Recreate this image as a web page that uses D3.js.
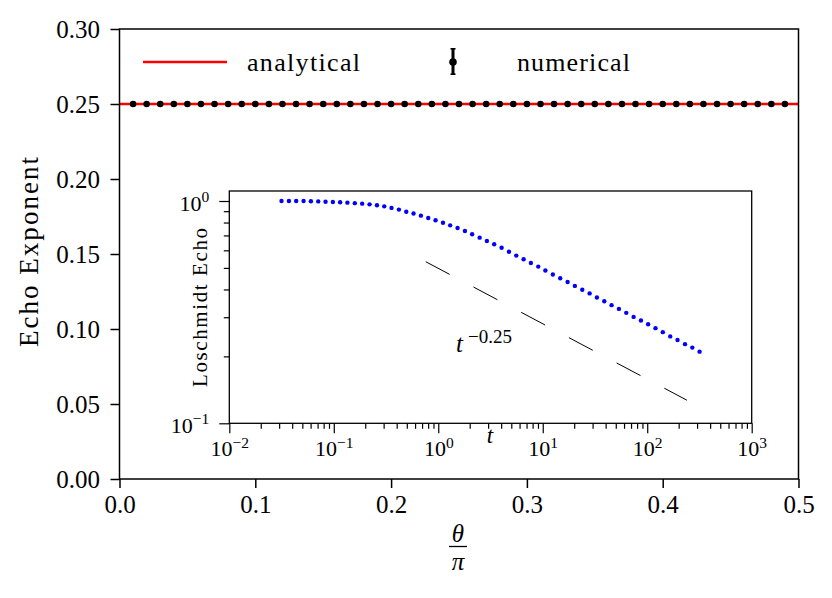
<!DOCTYPE html>
<html><head><meta charset="utf-8">
<script src="https://cdn.jsdelivr.net/npm/d3@7"></script>
<style>
body{margin:0;background:#fff}
svg{display:block}
svg text{font-family:"Liberation Serif","DejaVu Serif","Times New Roman",serif !important;fill:#000}
</style>
</head><body>
<svg id="c" width="832" height="598" font-family="Liberation Serif, DejaVu Serif, serif"></svg>
<script>
// ---------- data ----------
const thetaOverPi = [0.01,0.02,0.03,0.04,0.05,0.06,0.07,0.08,0.09,0.10,
  0.11,0.12,0.13,0.14,0.15,0.16,0.17,0.18,0.19,0.20,
  0.21,0.22,0.23,0.24,0.25,0.26,0.27,0.28,0.29,0.30,
  0.31,0.32,0.33,0.34,0.35,0.36,0.37,0.38,0.39,0.40,
  0.41,0.42,0.43,0.44,0.45,0.46,0.47,0.48,0.49];
const echoExponent = [0.25,0.25,0.25,0.25,0.25,0.25,0.25,0.25,0.25,0.25,
  0.25,0.25,0.25,0.25,0.25,0.25,0.25,0.25,0.25,0.25,
  0.25,0.25,0.25,0.25,0.25,0.25,0.25,0.25,0.25,0.25,
  0.25,0.25,0.25,0.25,0.25,0.25,0.25,0.25,0.25,0.25,
  0.25,0.25,0.25,0.25,0.25,0.25,0.25,0.25,0.25];
const analyticalTheta = [0, 0.5];
const analyticalExponent = [0.25, 0.25];
const mainXTicks = [0, 0.1, 0.2, 0.3, 0.4, 0.5];
const mainXTickLabels = ["0.0","0.1","0.2","0.3","0.4","0.5"];
const mainYTicks = [0, 0.05, 0.10, 0.15, 0.20, 0.25, 0.30];
const mainYTickLabels = ["0.00","0.05","0.10","0.15","0.20","0.25","0.30"];

const insetT = [0.0316,0.0372,0.0437,0.0514,0.0604,0.0710,0.0834,0.0980,0.115,0.135,
  0.159,0.187,0.220,0.259,0.304,0.357,0.420,0.494,0.580,0.682,
  0.802,0.942,1.11,1.30,1.53,1.80,2.11,2.49,2.92,3.43,
  4.04,4.75,5.58,6.56,7.70,9.06,10.6,12.5,14.7,17.3,
  20.3,23.9,28.1,33.0,38.8,45.6,53.6,63.0,74.1,87.1,
  102,120,141,166,195,230,270,317];
const insetEcho = [1.000,1.000,1.000,1.000,0.998,0.996,0.993,0.990,0.987,0.983,
  0.978,0.973,0.966,0.957,0.946,0.931,0.915,0.894,0.878,0.859,
  0.838,0.819,0.798,0.777,0.756,0.733,0.709,0.684,0.661,0.639,
  0.616,0.591,0.568,0.547,0.526,0.507,0.487,0.467,0.449,0.432,
  0.415,0.399,0.384,0.368,0.354,0.340,0.327,0.314,0.301,0.290,
  0.279,0.268,0.257,0.246,0.237,0.227,0.219,0.210];
const guideT = [0.76, 240];
const guideEcho = [0.533, 0.127];
const insetXTicks = [1e-2, 1e-1, 1e0, 1e1, 1e2, 1e3];
const insetYTicks = [1e-1, 1e0];

// ---------- setup ----------
const svg = d3.select('#c');
const M = {l:119.5, r:798.5, t:29, b:479};
const x = d3.scaleLinear([0, 0.5], [M.l, M.r]);
const y = d3.scaleLinear([0, 0.3], [M.b, M.t]);

// main axes
const gxa = svg.append('g').attr('transform', `translate(0,${M.b})`)
  .call(d3.axisBottom(x).tickValues(mainXTicks).tickSize(9).tickSizeOuter(0)
    .tickFormat((d,i)=>mainXTickLabels[i]));
const gya = svg.append('g').attr('transform', `translate(${M.l},0)`)
  .call(d3.axisLeft(y).tickValues(mainYTicks).tickSize(9).tickSizeOuter(0)
    .tickFormat((d,i)=>mainYTickLabels[i]));
[gxa, gya].forEach(g=>{
  g.attr('font-family', null).attr('font-size', null);
  g.select('.domain').remove();
  g.selectAll('.tick line').attr('stroke','#000').attr('stroke-width',1.5);
  g.selectAll('.tick text').attr('font-size',25).attr('fill','#000');
});
gxa.selectAll('.tick text').attr('y',34).attr('dy',0);
gya.selectAll('.tick text').attr('x',-19.5).attr('dy',0).attr('y',8.5);

// analytical line
const line = d3.line().x((d,i)=>x(analyticalTheta[i])).y(d=>y(d));
svg.append('path').datum(analyticalExponent).attr('d', line)
  .attr('stroke','#ff0000').attr('stroke-width',2.3).attr('fill','none');
// numerical points
svg.append('g').selectAll('circle').data(echoExponent).join('circle')
  .attr('cx',(d,i)=>x(thetaOverPi[i])).attr('cy',d=>y(d)).attr('r',3.3).attr('fill','#000');

// frame
svg.append('rect').attr('x',M.l).attr('y',M.t).attr('width',M.r-M.l).attr('height',M.b-M.t)
  .attr('fill','none').attr('stroke','#000').attr('stroke-width',1.5);

// axis labels
svg.append('text').attr('transform','translate(38,252) rotate(-90)')
  .attr('text-anchor','middle').attr('font-size',27)
  .attr('textLength',190).attr('lengthAdjust','spacing').text('Echo Exponent');
const xl = svg.append('g');
xl.append('text').attr('x',458).attr('y',542).attr('text-anchor','middle')
  .attr('font-size',25).attr('font-style','italic').text('θ');
xl.append('line').attr('x1',449).attr('x2',467).attr('y1',546.5).attr('y2',546.5)
  .attr('stroke','#000').attr('stroke-width',1.3);
xl.append('text').attr('x',458).attr('y',570).attr('text-anchor','middle')
  .attr('font-size',25).attr('font-style','italic').text('π');

// legend
const lg = svg.append('g');
lg.append('line').attr('x1',143).attr('x2',227).attr('y1',62).attr('y2',62)
  .attr('stroke','#ff0000').attr('stroke-width',2.3);
lg.append('text').attr('x',247).attr('y',71).attr('font-size',26)
  .attr('textLength',113).attr('lengthAdjust','spacing').text('analytical');
lg.append('line').attr('x1',453).attr('x2',453).attr('y1',48).attr('y2',75)
  .attr('stroke','#000').attr('stroke-width',3);
lg.append('line').attr('x1',450.5).attr('x2',455.5).attr('y1',48.8).attr('y2',48.8)
  .attr('stroke','#000').attr('stroke-width',1.6);
lg.append('line').attr('x1',450.5).attr('x2',455.5).attr('y1',74.2).attr('y2',74.2)
  .attr('stroke','#000').attr('stroke-width',1.6);
lg.append('circle').attr('cx',453).attr('cy',62).attr('r',3.8).attr('fill','#000');
lg.append('text').attr('x',517).attr('y',71).attr('font-size',26)
  .attr('textLength',113).attr('lengthAdjust','spacing').text('numerical');

// ---------- inset ----------
const I = {l:229.3, r:751.7, t:191, b:423.3};
const xi = d3.scaleLog([1e-2, 1e3], [I.l, I.r]);
const yi = d3.scaleLog([0.1, Math.pow(10, (201 - I.t) / 222.3)], [I.b, I.t]);

svg.append('rect').attr('x',I.l).attr('y',I.t).attr('width',I.r-I.l).attr('height',I.b-I.t)
  .attr('fill','#fff');

const supExp = d => { const e = Math.round(Math.log10(d)); return (e<0?'\u2212':'') + Math.abs(e); };

const xMinor = xi.ticks().filter(d => !insetXTicks.some(m => Math.abs(m-d)/m < 1e-9));
const yMinor = yi.ticks().filter(d => d < 0.999 && !insetYTicks.some(m => Math.abs(m-d)/m < 1e-9));

const gxm = svg.append('g').attr('transform',`translate(0,${I.b})`)
  .call(d3.axisBottom(xi).tickValues(xMinor).tickSize(5.5).tickSizeOuter(0).tickFormat(''));
const gym = svg.append('g').attr('transform',`translate(${I.l},0)`)
  .call(d3.axisLeft(yi).tickValues(yMinor).tickSize(5.5).tickSizeOuter(0).tickFormat(''));
const gxi = svg.append('g').attr('transform',`translate(0,${I.b})`)
  .call(d3.axisBottom(xi).tickValues(insetXTicks).tickSize(10).tickSizeOuter(0).tickFormat(supExp));
const gyi = svg.append('g').attr('transform',`translate(${I.l},0)`)
  .call(d3.axisLeft(yi).tickValues(insetYTicks).tickSize(10).tickSizeOuter(0).tickFormat(supExp));
[gxm, gym, gxi, gyi].forEach(g=>{
  g.attr('font-family', null).attr('font-size', null);
  g.select('.domain').remove();
  g.selectAll('.tick line').attr('stroke','#000').attr('stroke-width',1.2);
});
gxi.selectAll('.tick text').each(function(){
  const ex = this.textContent;
  const t = d3.select(this).text(null).attr('y',33).attr('dy',null)
    .attr('font-size',22).attr('fill','#000');
  t.append('tspan').text('10');
  t.append('tspan').attr('dy',-8.5).attr('font-size',15.5).text(ex);
});
gyi.selectAll('.tick text').each(function(){
  const ex = this.textContent;
  const t = d3.select(this).text(null).attr('x',-20).attr('y',9).attr('dy',null)
    .attr('font-size',22).attr('fill','#000');
  t.append('tspan').text('10');
  t.append('tspan').attr('dy',-8.5).attr('font-size',15.5).text(ex);
});

// guide line t^-0.25
const gline = d3.line().x((d,i)=>xi(guideT[i])).y(d=>yi(d));
svg.append('path').datum(guideEcho).attr('d', gline)
  .attr('stroke','#000').attr('stroke-width',1).attr('fill','none')
  .attr('stroke-dasharray','27,27');

// inset data
svg.append('g').selectAll('circle').data(insetEcho).join('circle')
  .attr('cx',(d,i)=>xi(insetT[i])).attr('cy',d=>yi(d)).attr('r',2.2).attr('fill','#0000ff');

svg.append('rect').attr('x',I.l).attr('y',I.t).attr('width',I.r-I.l).attr('height',I.b-I.t)
  .attr('fill','none').attr('stroke','#000').attr('stroke-width',1.3);

// inset labels
const pl = svg.append('text').attr('x',456).attr('y',352);
pl.append('tspan').attr('font-size',25).attr('font-style','italic').text('t');
pl.append('tspan').attr('x',468).attr('y',343).attr('font-size',19).text('\u22120.25');
svg.append('text').attr('x',490).attr('y',443).attr('text-anchor','middle')
  .attr('font-size',23).attr('font-style','italic').text('t');
svg.append('text').attr('transform','translate(207,307.5) rotate(-90)')
  .attr('text-anchor','middle').attr('font-size',21)
  .attr('textLength',159).attr('lengthAdjust','spacing').text('Loschmidt Echo');
</script>
</body></html>
